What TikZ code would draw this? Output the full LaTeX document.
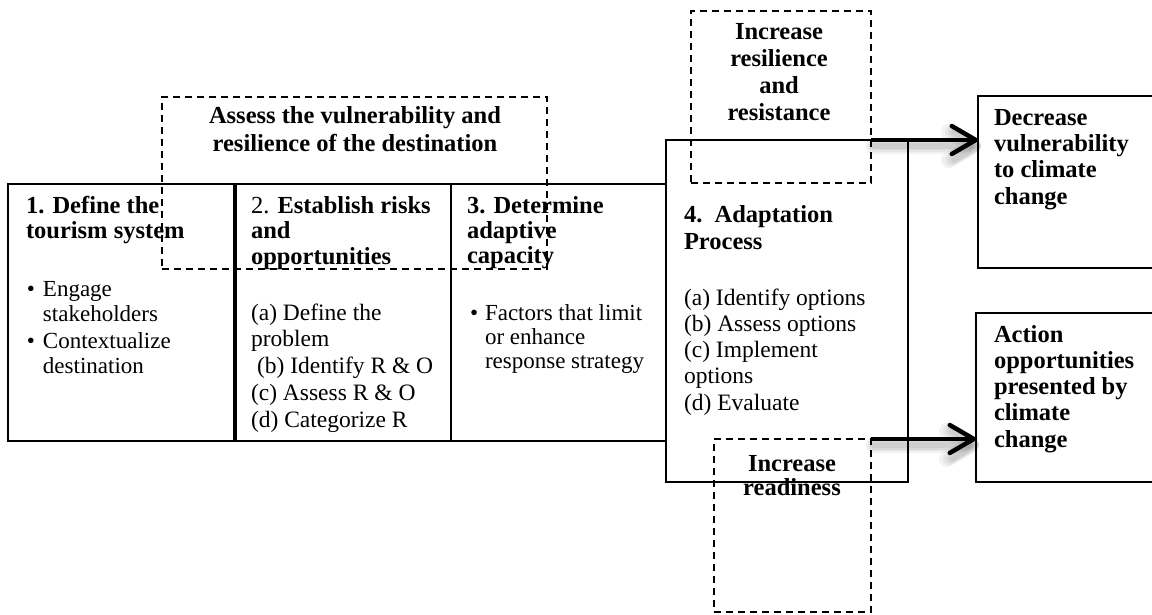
\documentclass[tikz,border=0pt]{standalone}
\usepackage{fontspec}
\setmainfont{Liberation Serif}
\usetikzlibrary{arrows.meta}

% strut that fixes the height of the first line of every label
\newcommand{\firstline}{\rule{0pt}{20pt}}

\tikzset{
  frame/.style={draw, line width=2pt, inner sep=0pt, outer sep=0pt},
  dashframe/.style={draw, line width=2pt, dash pattern=on 7pt off 5pt,
                    inner sep=0pt, outer sep=0pt},
  lbl/.style={inner sep=0pt, outer sep=0pt, anchor=north west, align=left},
  clbl/.style={inner sep=0pt, outer sep=0pt, anchor=north, align=center},
  hd/.style={font=\fontsize{24.5}{#1}\selectfont\bfseries},
  hd/.default=25.5,
  lst/.style={font=\fontsize{23.5}{#1}\selectfont},
  lst/.default=26.5,
  bul/.style={font=\fontsize{23}{#1}\selectfont},
  bul/.default=24.5,
  arr/.style={line width=4.5pt,
              -{Straight Barb[length=24pt,width=28pt,round]}},
  arrshade/.style={line width=#1, black, opacity=0.05, line cap=round,
              -{Straight Barb[length=24pt,width=28pt,round]}},
}

\begin{document}
\begin{tikzpicture}[x=1pt, y=-1pt]
  \useasboundingbox (0,0) rectangle (1152,615);

  % ---- the three assessment steps ----
  \node[frame, minimum width=227pt, minimum height=257pt] (b1) at (121.5,312.5) {};
  \node[frame, minimum width=216pt, minimum height=257pt] (b2) at (343,312.5) {};
  \node[frame, minimum width=214.5pt, minimum height=257pt] (b3) at (558.25,312.5) {};
  \draw[line width=4pt] (b1.north east) -- (b1.south east);

  % ---- adaptation process and outcomes ----
  \node[frame, minimum width=242.5pt, minimum height=342pt] (b4) at (786.75,311) {};
  \node[frame, minimum width=182pt, minimum height=172pt] (dec) at (1069,182) {};
  \node[frame, minimum width=184pt, minimum height=169pt] (act) at (1068,397.5) {};

  % ---- dashed groupings ----
  \node[dashframe, minimum width=385pt, minimum height=172pt] (assess) at (354.5,183) {};
  \node[dashframe, minimum width=180pt, minimum height=172pt] (res) at (781,97) {};
  \node[dashframe, minimum width=157pt, minimum height=173pt] (rdy) at (792.5,525.5) {};

  % ---- labels ----
  \node[clbl, hd=28] (tassess) at (355,104)
    {\firstline Assess the vulnerability and\\resilience of the destination};

  \node[lbl, hd=25] (t1) at (26,193) {\firstline 1. Define the\\tourism system};
  \node[lbl, bul=25] (l1) at (27,276)
    {\firstline\makebox[16pt][l]{•}Engage\\\hspace*{16pt}stakeholders\\[2pt]
     \makebox[16pt][l]{•}Contextualize\\\hspace*{16pt}destination};

  \node[lbl, hd=25.5] (t2) at (251,193)
    {\firstline\textmd{2.} Establish risks\\and\\opportunities};
  \node[lbl, lst=26.8] (l2) at (251,300)
    {\firstline(a) Define the\\problem\\\hspace*{6pt}(b) Identify R \& O\\(c) Assess R \& O\\(d) Categorize R};

  \node[lbl, hd=25] (t3) at (467,193) {\firstline 3. Determine\\adaptive\\capacity};
  \node[lbl, bul=24] (l3) at (470,300)
    {\firstline\makebox[15pt][l]{•}Factors that limit\\\hspace*{15pt}or enhance\\\hspace*{15pt}response strategy};

  \node[lbl, hd=27] (t4) at (684,202) {\firstline 4.\ \ Adaptation\\Process};
  \node[lbl, lst=26.25] (l4) at (684,285)
    {\firstline(a) Identify options\\(b) Assess options\\(c) Implement\\options\\(d) Evaluate};

  \node[clbl, hd=26.7] (tres) at (779,20)
    {\firstline Increase\\resilience\\and\\resistance};
  \node[clbl, hd=24.5] (trdy) at (792,451) {\firstline Increase\\readiness};

  \node[lbl, hd=26.4] (tdec) at (994,105)
    {\firstline Decrease\\vulnerability\\to climate\\change};
  \node[lbl, hd=26.25] (tact) at (994,322)
    {\firstline Action\\opportunities\\presented by\\climate\\change};

  % ---- arrows with a soft shadow ----
  \coordinate (s1) at (res.east |- b4.north);
  \coordinate (e1) at (dec.west |- b4.north);
  \coordinate (s2) at (rdy.north east);
  \coordinate (e2) at (act.west |- rdy.north);
  \foreach \w in {16pt,12pt,9pt,6pt} {
    \draw[arrshade=\w] ([shift={(3,6)}]s1) -- ([shift={(3,6)}]e1);
    \draw[arrshade=\w] ([shift={(3,6)}]s2) -- ([shift={(3,6)}]e2);
  }
  \draw[arr] (s1) -- (e1);
  \draw[arr] (s2) -- (e2);
\end{tikzpicture}
\end{document}
